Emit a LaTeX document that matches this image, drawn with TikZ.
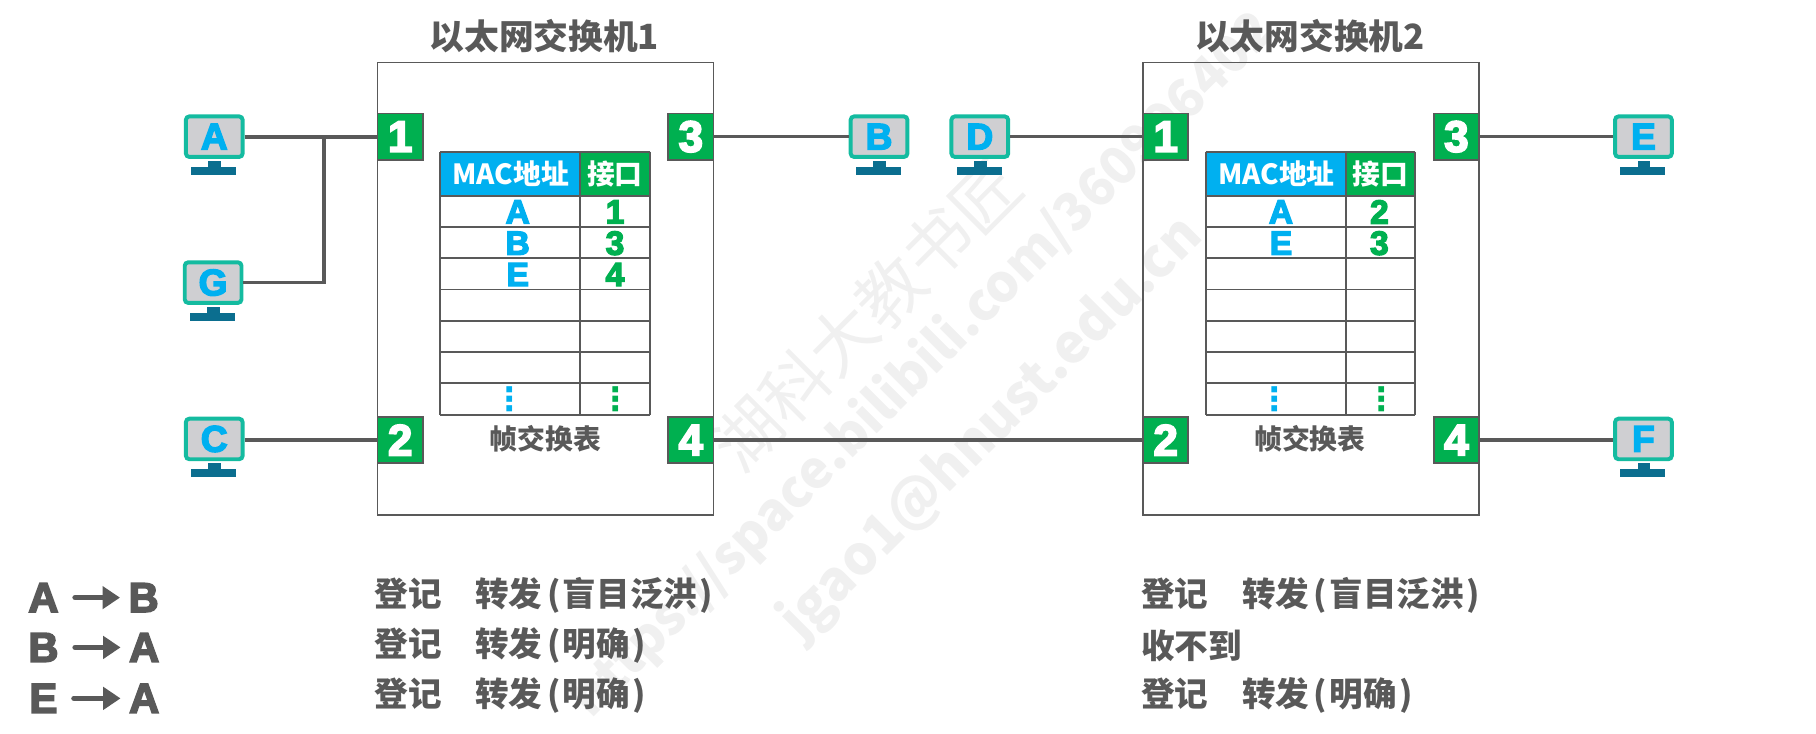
\documentclass[tikz,border=0pt]{standalone}
\usepackage{fontspec}
\setmainfont{Noto Sans CJK SC}
\newfontfamily\heavy[FakeBold=4]{Liberation Sans Bold}
\newfontfamily\dotsfont{DejaVu Sans Bold}
\usetikzlibrary{arrows.meta}
\definecolor{ink}{HTML}{595959}
\definecolor{pgreen}{HTML}{00B050}
\definecolor{pblue}{HTML}{00B0F0}
\definecolor{pteal}{HTML}{14BBA0}
\definecolor{pscreen}{HTML}{CFCFD2}
\definecolor{pbase}{HTML}{0B6E8F}
\definecolor{wmgray}{HTML}{F0F0F0}
\newcommand{\fsz}[1]{\fontsize{#1}{#1}\selectfont}
\newcommand{\lp}{\kern2pt(\kern1pt}
\newcommand{\rp}{\kern1pt)}
\tikzset{
  switchbox/.style={draw=ink,line width=.8pt},
  pcnode/.style={draw=pteal,fill=pscreen,line width=1.7pt,rounded corners=1.5pt,minimum width=24.5pt,minimum height=17.5pt,inner sep=0pt,text=pblue,font=\heavy\fsz{16}},
  portnode/.style={draw=ink,fill=pgreen,line width=.7pt,minimum width=19.5pt,minimum height=20pt,inner sep=0pt,text=white,font=\heavy\fsz{19}},
  wire/.style={draw=ink,line width=1.4pt},
  thickwire/.style={draw=ink,line width=1.6pt},
  gridline/.style={draw=ink,line width=.8pt},
  cellL/.style={inner sep=0pt,text=pblue,font=\heavy\fsz{14.5}},
  cellN/.style={inner sep=0pt,text=pgreen,font=\heavy\fsz{14.5}},
  headtxt/.style={inner sep=0pt,text=white,font=\bfseries\fsz{12}},
  ttl/.style={inner sep=0pt,text=ink,font=\bfseries\fsz{15}},
  notetxt/.style={anchor=west,inner sep=0pt,text=ink,font=\bfseries\fsz{14.5}},
  captxt/.style={inner sep=0pt,text=ink,font=\bfseries\fsz{12}},
  flowL/.style={inner sep=0pt,text=ink,font=\heavy\fsz{18}},
  flowarrow/.style={draw=ink,line width=2.4pt,line cap=round,-{Triangle[length=7.5pt,width=9.5pt]},shorten <=7pt,shorten >=3.5pt},
  wm/.style={inner sep=0pt,text=wmgray,rotate=45}
}
% name, x, y, letter
\newcommand{\pcunit}[4]{%
  \node[pcnode] (#1) at (#2,#3) {#4};
  \begin{scope}[shift={(#2,#3)}]
    \fill[pbase] (-5,21) rectangle (6,27);
    \fill[pbase] (-20,26) rectangle (19,33);
  \end{scope}
}
\newcommand{\fwdtable}[2]{%
  \begin{scope}[shift={(#2,0)}]
    \fill[pblue] (0,131) rectangle (121,169);
    \fill[pgreen] (121,131) rectangle (181,169);
    \foreach \yy in {131,169,196,223,250,277,304,331,358} \draw[gridline] (0,\yy) -- (181,\yy);
    \foreach \xx in {0,121,181} \draw[gridline] (\xx,131) -- (\xx,358);
    \node[headtxt] (#1mac) at (61,150) {MAC地址};
    \node[headtxt] (#1if) at (151,150) {接口};
    \node[inner sep=0pt,text=pblue,font=\dotsfont\fsz{14}] (#1d1) at (60,345) {⋮};
    \node[inner sep=0pt,text=pgreen,font=\dotsfont\fsz{14}] (#1d2) at (152,345) {⋮};
  \end{scope}
}
\begin{document}
\begin{tikzpicture}[x=.5pt,y=-.5pt]
\useasboundingbox (0,0) rectangle (1568,633);
% watermark
\node[wm,font=\fsz{29}] (w1) at (748,272) {湖科大教书匠};
\node[wm,font=\bfseries\fsz{22.5}] (w2) at (797,315) {https://space.bilibili.com/360996402};
\node[wm,font=\bfseries\fsz{23.5}] (w3) at (856,370) {jgao1@hnust.edu.cn};
% switches
\node[ttl] (t1) at (470,31) {以太网交换机1};
\node[ttl] (t2) at (1131,31) {以太网交换机2};
\draw[switchbox] (326,54) rectangle (616,445);
\draw[switchbox] (987,54) rectangle (1277,445);
\fwdtable{ta}{380}
\fwdtable{tb}{1041}
\node[captxt] (c1) at (471,379) {帧交换表};
\node[captxt] (c2) at (1131,379) {帧交换表};
% table 1 entries
\node[cellL] (a1) at (447,183) {A}; \node[cellN] (a2) at (531,183) {1};
\node[cellL] (a3) at (447,210) {B}; \node[cellN] (a4) at (531,210) {3};
\node[cellL] (a5) at (447,237) {E}; \node[cellN] (a6) at (531,237) {4};
% table 2 entries
\node[cellL] (b1) at (1106,183) {A}; \node[cellN] (b2) at (1191,183) {2};
\node[cellL] (b3) at (1106,210) {E}; \node[cellN] (b4) at (1191,210) {3};
% ports
\node[portnode] (p11) at (345.5,118) {1};
\node[portnode] (p13) at (596.5,118) {3};
\node[portnode] (p12) at (345.5,380) {2};
\node[portnode] (p14) at (596.5,380) {4};
\node[portnode] (p21) at (1006.5,118) {1};
\node[portnode] (p23) at (1257.5,118) {3};
\node[portnode] (p22) at (1006.5,380) {2};
\node[portnode] (p24) at (1257.5,380) {4};
% hosts
\pcunit{A}{185}{118}{A}
\pcunit{G}{184}{244}{G}
\pcunit{C}{185}{379}{C}
\pcunit{B}{759}{118}{B}
\pcunit{D}{846}{118}{D}
\pcunit{E}{1419}{118}{E}
\pcunit{F}{1419}{379}{F}
% connectors
\coordinate (jn) at (280,118);
\draw[thickwire] (A) -- (p11);
\draw[thickwire] (G.east) -| (jn);
\draw[wire] (p12.west -| C.east) -- (p12.west);
\draw[wire] (p13) -- (B);
\draw[wire] (D) -- (p21);
\draw[wire] (p14) -- (p22);
\draw[wire] (p23) -- (E);
\draw[wire] (p24.east) -- (p24.east -| F.west);
% flows
\node[flowL] (f1a) at (37.5,516) {A}; \node[flowL] (f1b) at (124,516) {B};
\node[flowL] (f2a) at (37.5,559) {B}; \node[flowL] (f2b) at (124.5,559) {A};
\node[flowL] (f3a) at (37.5,603) {E}; \node[flowL] (f3b) at (124.5,603) {A};
\draw[flowarrow] (f1a) -- (f1b);
\draw[flowarrow] (f2a) -- (f2b);
\draw[flowarrow] (f3a) -- (f3b);
% notes
\node[notetxt] (n1) at (323,514) {登记\quad 转发\lp 盲目泛洪\rp};
\node[notetxt] (n2) at (323,557.5) {登记\quad 转发\lp 明确\rp};
\node[notetxt] (n3) at (323,600.5) {登记\quad 转发\lp 明确\rp};
\node[notetxt] (n4) at (985,514) {登记\quad 转发\lp 盲目泛洪\rp};
\node[notetxt] (n5) at (985,557.5) {收不到};
\node[notetxt] (n6) at (985,600.5) {登记\quad 转发\lp 明确\rp};
\end{tikzpicture}
\end{document}
